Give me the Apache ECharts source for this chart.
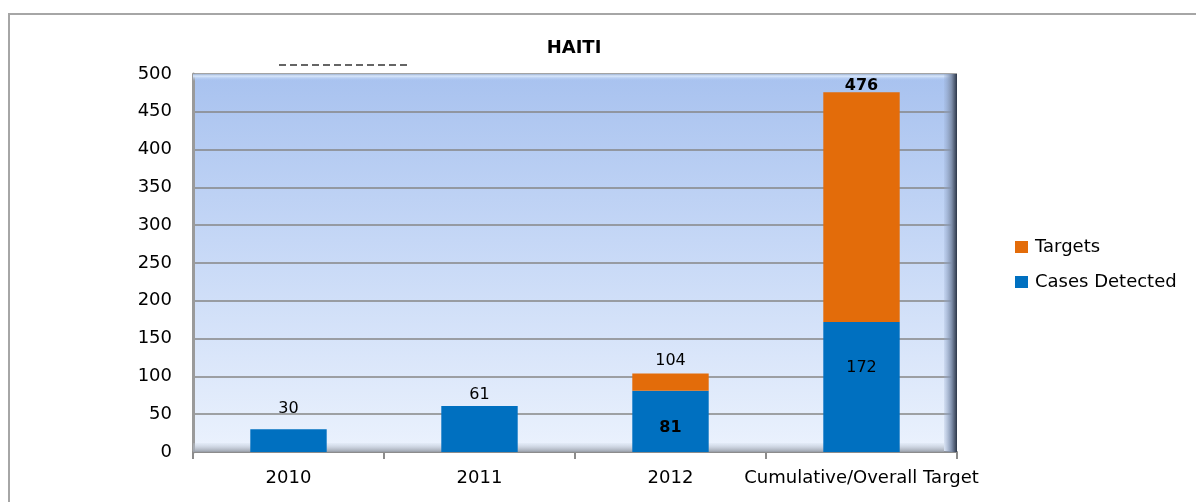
<!DOCTYPE html>
<html><head><meta charset="utf-8">
<script src="https://cdn.jsdelivr.net/npm/echarts@6/dist/echarts.min.js"></script>
<style>html,body{margin:0;padding:0;background:#fff}#c{width:1196px;height:502px}</style>
</head><body><div id="c"></div><script>
// ---- data ----
const categories = ['2010', '2011', '2012', 'Cumulative/Overall Target'];
const casesDetected = [30, 61, 81, 172];
const targets = [null, null, 23, 304];
const yMin = 0, yMax = 500, yStep = 50;
const seriesNames = ['Targets', 'Cases Detected'];

// ---- layout / style ----
const G = { left: 193, top: 74, right: 957, bottom: 452 };
const FONT = 'DejaVu Sans';
const BLUE = '#0070c0', ORANGE = '#e36c0a';

const chart = echarts.init(document.getElementById('c'), null, { renderer: 'canvas' });

const blueLabel = [
  { show: true, position: 'top', distance: 12 },
  { show: true, position: 'top', distance: 3 },
  { show: true, position: 'inside', offset: [0, 6], fontWeight: 'bold' },
  { show: true, position: 'inside', offset: [0, -19] }
];
const orangeLabel = [
  { show: false }, { show: false },
  { show: true, position: 'top', distance: 5 },
  { show: true, position: 'top', distance: -2, fontWeight: 'bold' }
];

const blueData = casesDetected.map((v, i) => ({ value: v, label: blueLabel[i] }));
const orangeData = targets.map((v, i) => ({
  value: v,
  label: Object.assign({}, orangeLabel[i], {
    formatter: () => String((casesDetected[i] || 0) + (v || 0))
  })
}));

const option = {
  animation: false,
  backgroundColor: '#ffffff',
  title: {
    text: 'HAITI', left: 569, top: 34, textAlign: 'center',
    textStyle: { fontFamily: FONT, fontSize: 18, fontWeight: 'bold', color: '#000' }
  },
  legend: {
    orient: 'vertical', left: 1010, top: 233, itemGap: 17,
    itemWidth: 13, itemHeight: 12,
    icon: 'rect',
    data: seriesNames,
    textStyle: { fontFamily: FONT, fontSize: 18, color: '#000', padding: [0, 0, 0, 2] }
  },
  grid: {
    left: G.left, top: G.top, width: G.right - G.left, height: G.bottom - G.top,
    show: true, borderWidth: 0,
    backgroundColor: {
      type: 'linear', x: 0, y: 0, x2: 0, y2: 1,
      colorStops: [
        { offset: 0, color: '#a8c2ef' },
        { offset: 0.5, color: '#c9daf7' },
        { offset: 1, color: '#ebf2fd' }
      ]
    }
  },
  xAxis: {
    type: 'category', data: categories,
    axisLine: { show: true, lineStyle: { color: '#8c8c8c', width: 2 } },
    axisTick: { show: true, length: 7, lineStyle: { color: '#8c8c8c', width: 2 } },
    axisLabel: { fontFamily: FONT, fontSize: 18, color: '#000', margin: 17, interval: 0 },
    splitLine: { show: false }
  },
  yAxis: {
    type: 'value', min: yMin, max: yMax, interval: yStep,
    axisLine: { show: true, lineStyle: { color: '#9a9a9a', width: 3 } },
    axisTick: { show: false },
    axisLabel: { fontFamily: FONT, fontSize: 18, color: '#000', margin: 21 },
    splitLine: { show: true, lineStyle: { color: '#868686', width: 1.5 } }
  },
  series: [
    {
      name: 'Cases Detected', type: 'bar', stack: 'total', barWidth: '40%',
      itemStyle: { color: BLUE },
      label: { fontFamily: FONT, fontSize: 16, color: '#000' },
      data: blueData, z: 3
    },
    {
      name: 'Targets', type: 'bar', stack: 'total', barWidth: '40%',
      itemStyle: { color: ORANGE },
      label: { fontFamily: FONT, fontSize: 16, color: '#000' },
      data: orangeData, z: 3
    }
  ],
  graphic: [
    // outer frame
    { type: 'rect', z: 0, shape: { x: 9, y: 14, width: 1200, height: 500 },
      style: { fill: 'none', stroke: '#a6a6a6', lineWidth: 2 } },
    // top bevel highlight
    { type: 'rect', z: 1, shape: { x: G.left, y: G.top, width: G.right - G.left, height: 7 },
      style: { fill: { type: 'linear', x: 0, y: 0, x2: 0, y2: 1,
        colorStops: [{ offset: 0, color: '#9fb4d6' }, { offset: 0.3, color: '#d8e7fb' }, { offset: 1, color: 'rgba(168,194,239,0)' }] } } },
    // right wall shadow
    { type: 'rect', z: 1, shape: { x: G.right - 13, y: G.top, width: 13, height: G.bottom - G.top },
      style: { fill: { type: 'linear', x: 0, y: 0, x2: 1, y2: 0,
        colorStops: [{ offset: 0, color: 'rgba(150,170,205,0.2)' }, { offset: 0.6, color: '#7d8da8' }, { offset: 1, color: '#2c3648' }] } } },
    // bottom floor shadow
    { type: 'rect', z: 1, shape: { x: G.left, y: G.bottom - 9, width: G.right - G.left - 13, height: 9 },
      style: { fill: { type: 'linear', x: 0, y: 0, x2: 0, y2: 1,
        colorStops: [{ offset: 0, color: 'rgba(200,210,225,0.2)' }, { offset: 1, color: '#9aa0aa' }] } } },
    // stray cut-off text artifact
    { type: 'line', z: 1, shape: { x1: 279, y1: 65, x2: 409, y2: 65 },
      style: { stroke: '#333', lineWidth: 1.5, lineDash: [7, 4] } }
  ]
};
chart.setOption(option);
</script></body></html>
